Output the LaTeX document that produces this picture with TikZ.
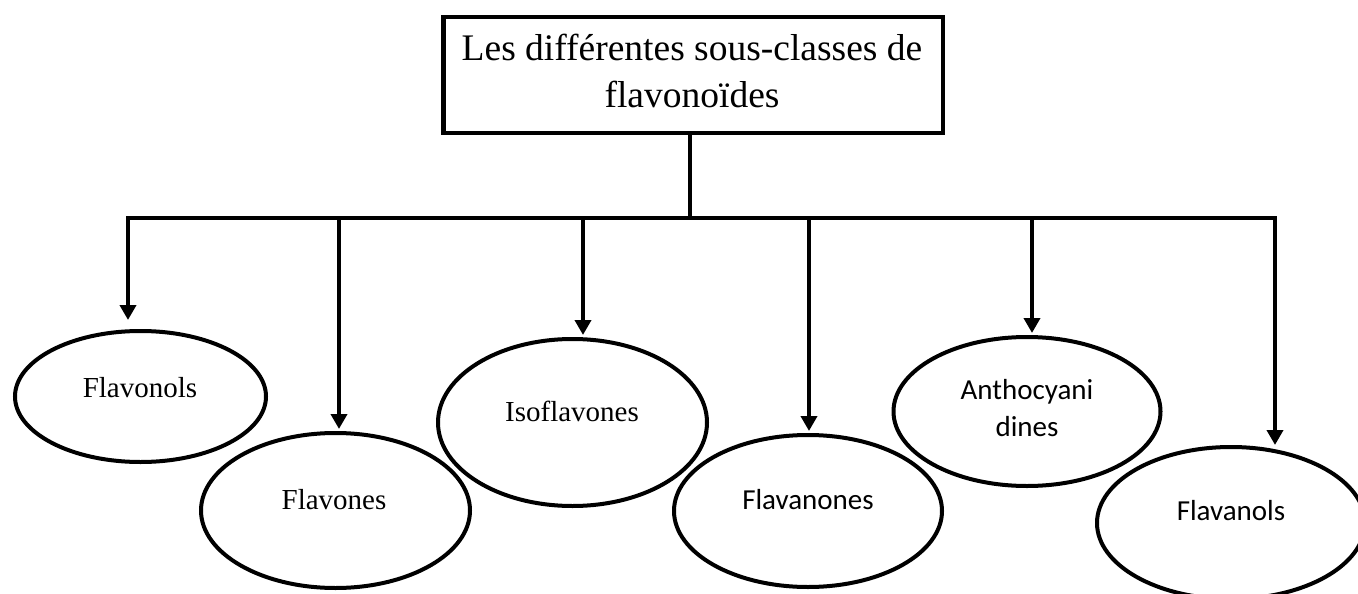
\documentclass[tikz,border=0pt]{standalone}
\usepackage{fontspec}
\setmainfont{Liberation Serif}
\newfontfamily\carlito{Carlito}
\usetikzlibrary{arrows.meta,shapes.geometric}

\begin{document}
\begin{tikzpicture}[x=1pt,y=-1pt,
  titlebox/.style={draw, line width=4.5pt, minimum width=499.5pt, minimum height=115.5pt, inner sep=0pt},
  blob/.style={draw, ellipse, line width=4pt, inner sep=0pt},
  serif/.style={anchor=base, inner sep=0pt, font=\fontsize{29}{35}\selectfont},
  sans/.style={anchor=base, inner sep=0pt, font=\carlito\fontsize{29}{35}\selectfont},
  headline/.style={anchor=base, inner sep=0pt, font=\fontsize{37.5}{45}\selectfont},
  wire/.style={line width=4pt, line cap=rect},
  feed/.style={line width=4pt, -{Triangle[width=16pt,length=15pt]}, shorten >=2pt}]

\useasboundingbox (0,0) rectangle (1358,594);
\clip (0,0) rectangle (1358,594);

% heading box
\node[titlebox] (title) at (693,75) {};
\node[headline] (head1) at (692,61) {Les différentes sous-classes de};
\node[headline] (head2) at (692,107) {flavonoïdes};

% sub-class ellipses
\node[blob, minimum width=251pt, minimum height=131pt] (e1) at (140.5,396.5) {};
\node[blob, minimum width=269pt, minimum height=155pt] (e2) at (335.5,510.5) {};
\node[blob, minimum width=269pt, minimum height=167pt] (e3) at (572.5,422.5) {};
\node[blob, minimum width=268pt, minimum height=152pt] (e4) at (808,511) {};
\node[blob, minimum width=267pt, minimum height=149pt] (e5) at (1027,411.5) {};
\node[blob, minimum width=268pt, minimum height=152pt] (e6) at (1231,523) {};

% labels
\node[serif] (l1) at (140,397) {Flavonols};
\node[serif] (l2) at (334,509) {Flavones};
\node[serif] (l3) at (572,421) {Isoflavones};
\node[sans]  (l4) at (808,509) {Flavanones};
\node[sans]  (l5a) at (1027,399) {Anthocyani};
\node[sans]  (l5b) at (1027,436) {dines};
\node[sans]  (l6) at (1231,520) {Flavanols};

% distribution bus
\coordinate (bus) at (690,218);
\coordinate (b1) at (128,218);
\coordinate (b2) at (339,218);
\coordinate (b3) at (583,218);
\coordinate (b4) at (809,218);
\coordinate (b5) at (1032,218);
\coordinate (b6) at (1275,218);

\draw[wire] ([xshift=-3pt]title.south) -- ([xshift=-3pt]title.south |- bus);
\draw[wire] (b1) -- (b6);

% drops to each ellipse
\draw[feed, shorten >=9pt] (b1) -- (b1 |- e1.north);
\draw[feed] (b2) -- (b2 |- e2.north);
\draw[feed] (b3) -- (b3 |- e3.north);
\draw[feed] (b4) -- (b4 |- e4.north);
\draw[feed] (b5) -- (b5 |- e5.north);
\draw[feed, shorten >=0pt] (b6) -- (b6 |- e6.north);
\end{tikzpicture}
\end{document}
